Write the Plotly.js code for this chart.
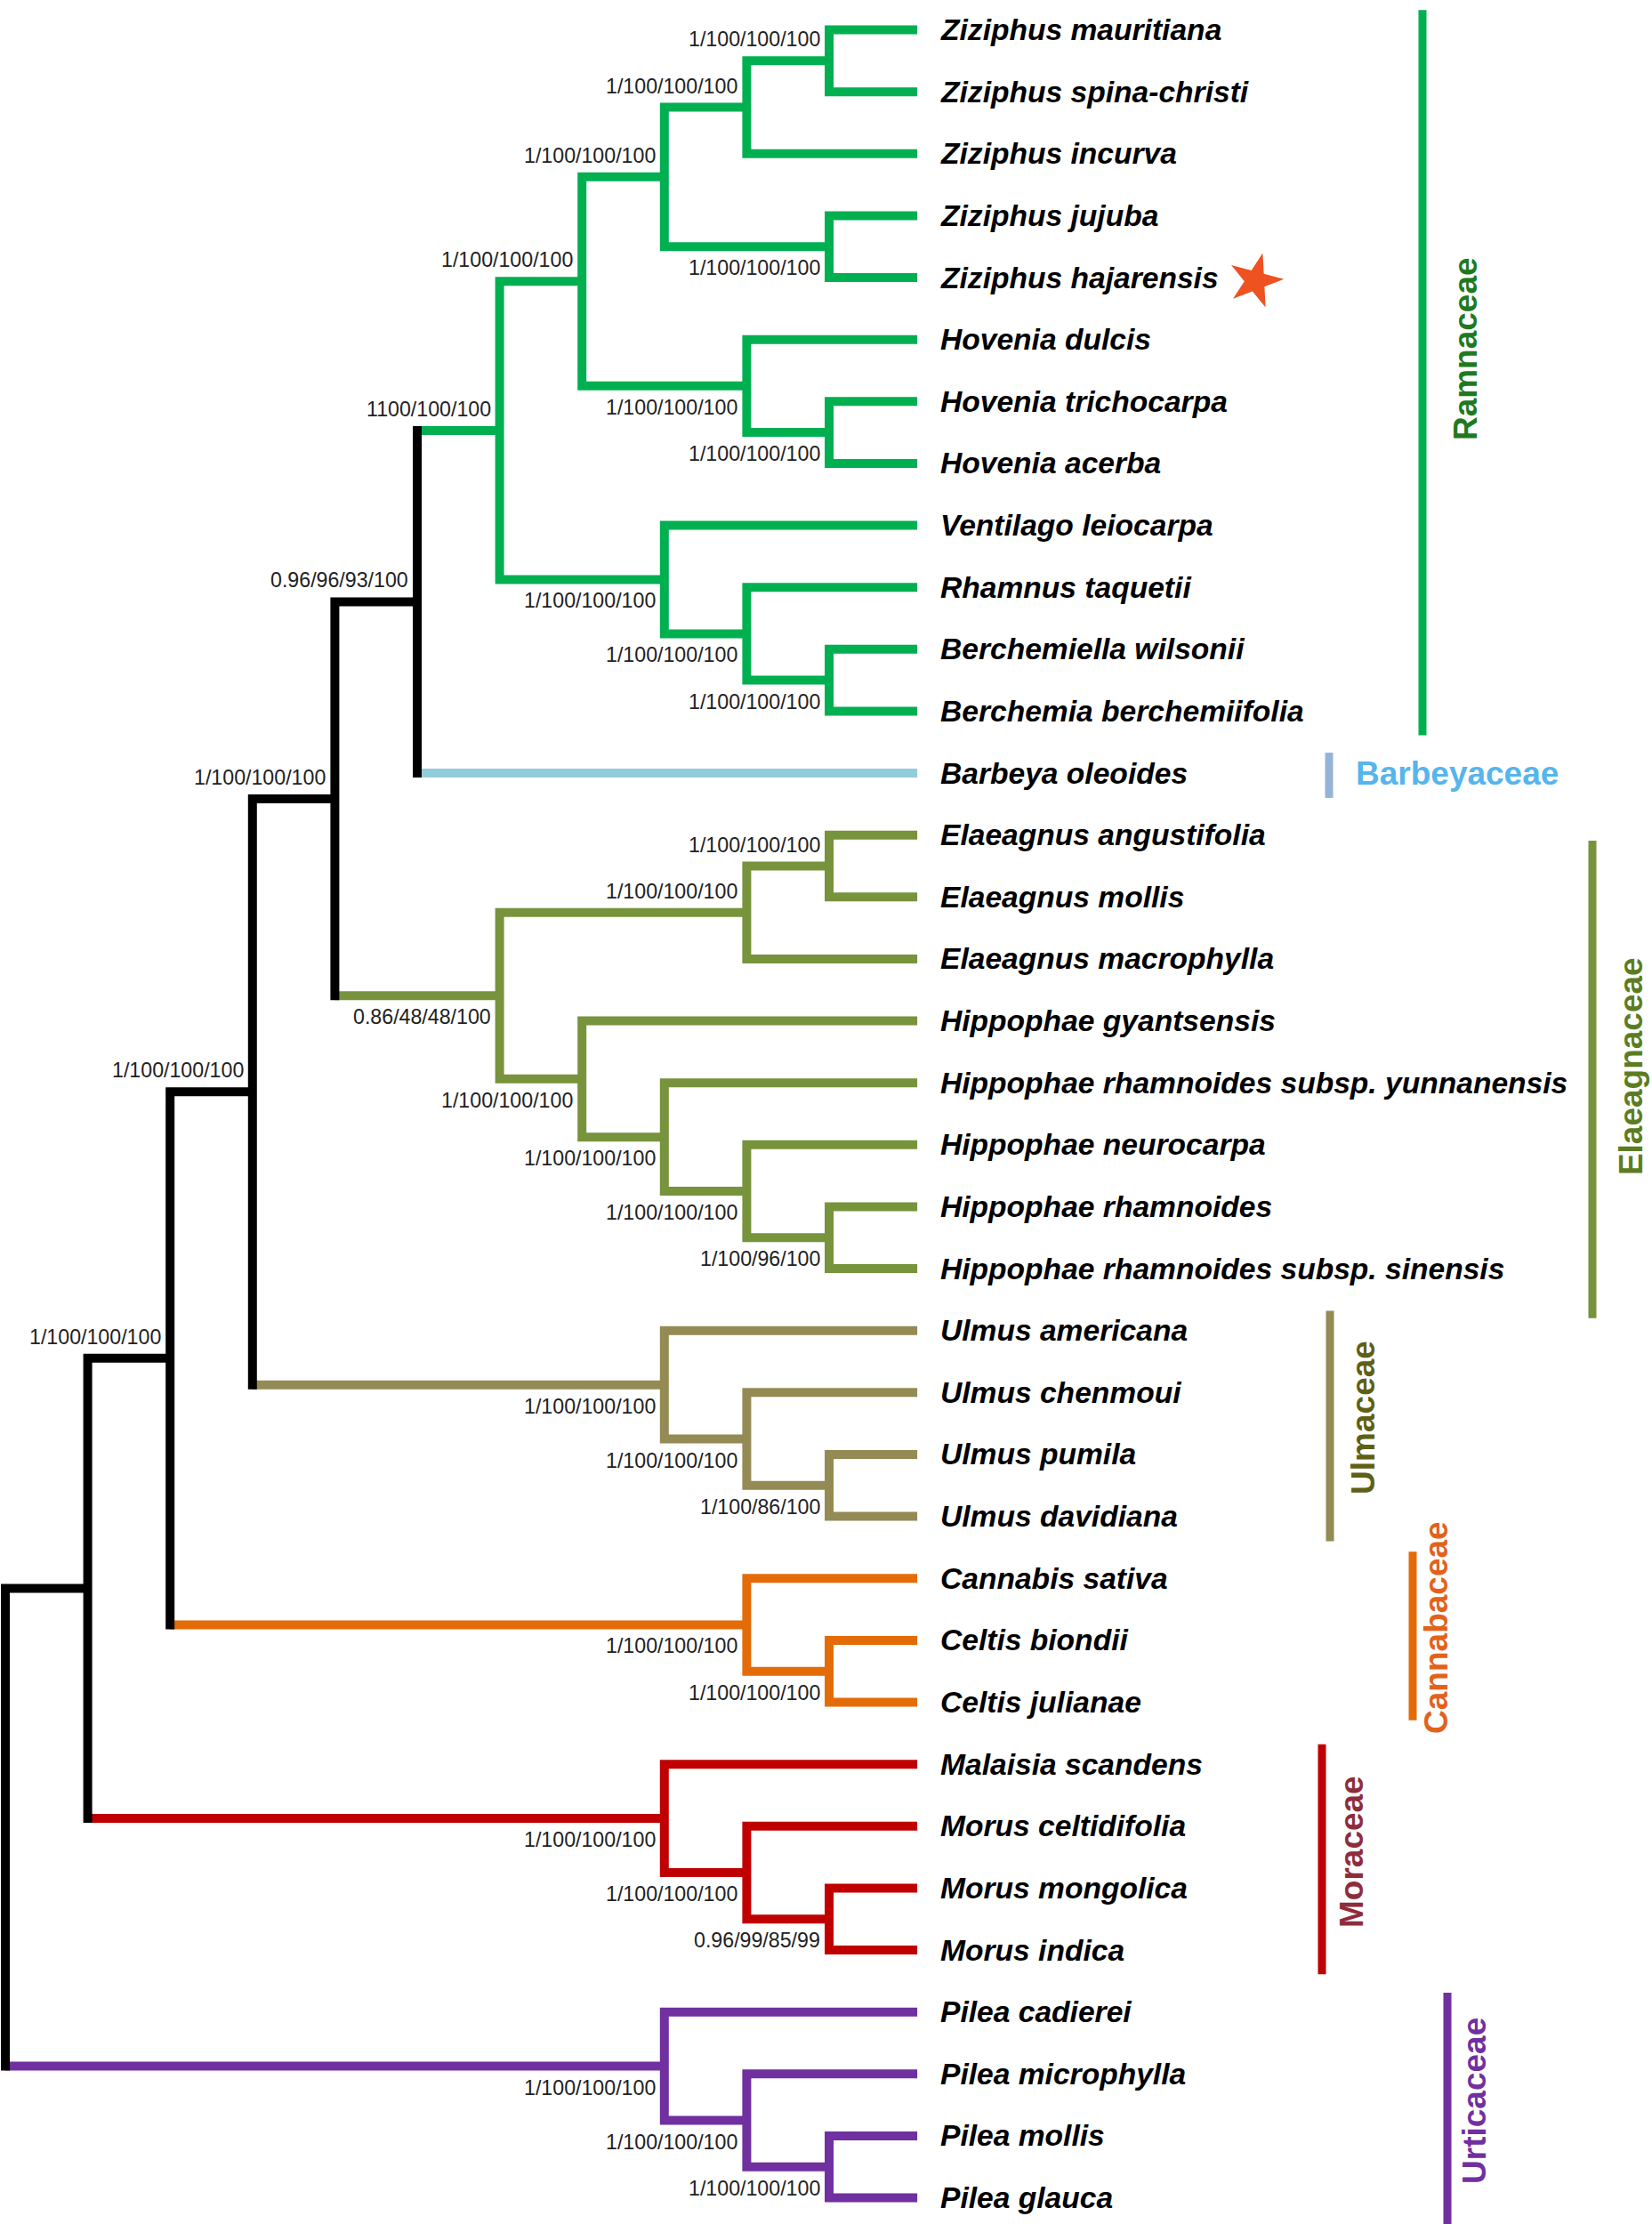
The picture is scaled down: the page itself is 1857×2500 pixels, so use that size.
<!DOCTYPE html>
<html>
<head>
<meta charset="utf-8">
<script src="https://cdn.plot.ly/plotly-3.0.1.min.js"></script>
<style>html,body{margin:0;padding:0;background:#fff;}</style>
</head>
<body>
<div id="chart" style="width:1857px;height:2500px;"></div>
<script>
// ---------------- DATA ----------------
// Tree topology (Newick); internal node names are the support values (PP/BS/BS/BS)
const treeNewick =
  "(((((((((((Ziziphus mauritiana,Ziziphus spina-christi)1/100/100/100,Ziziphus incurva)1/100/100/100," +
  "(Ziziphus jujuba,Ziziphus hajarensis)1/100/100/100)1/100/100/100," +
  "(Hovenia dulcis,(Hovenia trichocarpa,Hovenia acerba)1/100/100/100)1/100/100/100)1/100/100/100," +
  "(Ventilago leiocarpa,(Rhamnus taquetii,(Berchemiella wilsonii,Berchemia berchemiifolia)1/100/100/100)1/100/100/100)1/100/100/100)1100/100/100," +
  "Barbeya oleoides)0.96/96/93/100," +
  "(((Elaeagnus angustifolia,Elaeagnus mollis)1/100/100/100,Elaeagnus macrophylla)1/100/100/100," +
  "(Hippophae gyantsensis,(Hippophae rhamnoides subsp. yunnanensis,(Hippophae neurocarpa,(Hippophae rhamnoides,Hippophae rhamnoides subsp. sinensis)1/100/96/100)1/100/100/100)1/100/100/100)1/100/100/100)0.86/48/48/100)1/100/100/100," +
  "(Ulmus americana,(Ulmus chenmoui,(Ulmus pumila,Ulmus davidiana)1/100/86/100)1/100/100/100)1/100/100/100)1/100/100/100," +
  "(Cannabis sativa,(Celtis biondii,Celtis julianae)1/100/100/100)1/100/100/100)1/100/100/100," +
  "(Malaisia scandens,(Morus celtidifolia,(Morus mongolica,Morus indica)0.96/99/85/99)1/100/100/100)1/100/100/100)," +
  "(Pilea cadierei,(Pilea microphylla,(Pilea mollis,Pilea glauca)1/100/100/100)1/100/100/100)1/100/100/100);";

const cladeNames = ["Ramnaceae", "Barbeyaceae", "Elaeagnaceae", "Ulmaceae", "Cannabaceae", "Moraceae", "Urticaceae"];
const cladeFirstLeaf = ["Ziziphus mauritiana", "Barbeya oleoides", "Elaeagnus angustifolia", "Ulmus americana", "Cannabis sativa", "Malaisia scandens", "Pilea cadierei"];
const cladeLastLeaf = ["Berchemia berchemiifolia", "Barbeya oleoides", "Hippophae rhamnoides subsp. sinensis", "Ulmus davidiana", "Celtis julianae", "Morus indica", "Pilea glauca"];
const highlightedSpecies = ["Ziziphus hajarensis"];

// ---------------- STYLE ----------------
const W = 1857, H = 2500;
const FONT = "Liberation Sans, Arial, Helvetica, sans-serif";
const LW = 10;                 // branch line width (px)
const PX_X = 92.6;             // px per tree level
const PX_Y = 69.63;            // px per leaf
const X0PX = 6;                // px of root
const Y0PX = 33.5;             // px of first leaf
const TIP_PAD = 0.07;          // extra length of terminal branches (levels)
const BACKBONE = "#000000";
const cladeStyle = [
  {branch:"#00b050", bar:"#00b050", text:"#1f7a1f", barX:1599, padTop:0.32, padBot:0.39, textX:1647, textDy:-0.35, angle:-90},
  {branch:"#92cddc", bar:"#95b3d7", text:"#56b5ec", barX:1494, padTop:0.33, padBot:0.40, textX:1522, textDy:0, angle:0},
  {branch:"#77933c", bar:"#77933c", text:"#5b7d22", barX:1790, padTop:-0.09, padBot:0.80, textX:1833, textDy:0.24, angle:-90},
  {branch:"#948a54", bar:"#948a54", text:"#5f5f16", barX:1495, padTop:0.32, padBot:0.40, textX:1533, textDy:-0.09, angle:-90},
  {branch:"#e36c09", bar:"#e36c09", text:"#e2621b", barX:1588, padTop:0.43, padBot:0.29, textX:1615, textDy:-0.2, angle:-90},
  {branch:"#c00000", bar:"#c00000", text:"#8f2c3c", barX:1486, padTop:0.32, padBot:0.39, textX:1519, textDy:-0.08, angle:-90},
  {branch:"#7030a0", bar:"#7030a0", text:"#7030a0", barX:1627, padTop:0.31, padBot:0.55, textX:1658, textDy:-0.06, angle:-90}
];

// ---------------- PARSE & LAYOUT ----------------
function parseNewick(s) {
  let i = 0;
  function node() {
    const n = {children: [], name: ""};
    if (s[i] === "(") {
      i++;
      n.children.push(node());
      while (s[i] === ",") { i++; n.children.push(node()); }
      i++; // ')'
    }
    let name = "";
    while (i < s.length && !",();".includes(s[i])) { name += s[i]; i++; }
    n.name = name.trim();
    return n;
  }
  return node();
}
const root = parseNewick(treeNewick);
const leaves = [];
function layout(n) {
  if (!n.children.length) { n.h = 0; n.y = leaves.length; n.leaves = [n.name]; leaves.push(n); return; }
  n.children.forEach(c => { c.parent = n; layout(c); });
  n.h = Math.max(...n.children.map(c => c.h)) + 1;
  n.y = (n.children[0].y + n.children[n.children.length - 1].y) / 2;
  n.leaves = [].concat(...n.children.map(c => c.leaves));
}
layout(root);
const HMAX = root.h;
function setX(n) {
  n.x = n.children.length ? HMAX - n.h : HMAX + TIP_PAD;
  n.children.forEach(setX);
}
setX(root);
const leafIndex = {};
leaves.forEach((l, i) => leafIndex[l.name] = i);
const leafClade = {};
cladeNames.forEach((c, k) => {
  for (let i = leafIndex[cladeFirstLeaf[k]]; i <= leafIndex[cladeLastLeaf[k]]; i++) leafClade[leaves[i].name] = k;
});
function nodeColor(n) {
  const ks = new Set(n.leaves.map(l => leafClade[l]));
  if (ks.size === 1) { const k = [...ks][0]; if (k !== undefined) return cladeStyle[k].branch; }
  return BACKBONE;
}

// ---------------- BRANCH SEGMENTS ----------------
const segs = {}; // color -> {x:[], y:[]}
function addLine(color, pts) {
  if (!segs[color]) segs[color] = {x: [], y: []};
  pts.forEach(p => { segs[color].x.push(p[0]); segs[color].y.push(p[1]); });
  segs[color].x.push(null); segs[color].y.push(null);
}
const ext = (LW / 2) / PX_Y;
const supportAnn = [];
function walk(n) {
  if (!n.children.length) return;
  const cn = nodeColor(n);
  const c1 = n.children[0], c2 = n.children[n.children.length - 1];
  const col1 = nodeColor(c1), col2 = nodeColor(c2);
  const pts = [];
  if (col1 === cn) { pts.push([c1.x, c1.y]); pts.push([n.x, c1.y]); }
  else { addLine(col1, [[n.x, c1.y], [c1.x, c1.y]]); pts.push([n.x, c1.y - ext]); }
  if (col2 === cn) { pts.push([n.x, c2.y]); pts.push([c2.x, c2.y]); }
  else { addLine(col2, [[n.x, c2.y], [c2.x, c2.y]]); pts.push([n.x, c2.y + ext]); }
  addLine(cn, pts);
  if (n.parent && n.name) {
    const first = n.parent.children[0] === n;
    supportAnn.push({
      x: n.x, y: n.y, xref: "x", yref: "y", text: n.name, showarrow: false,
      xanchor: "right", yanchor: "middle", xshift: -8, yshift: first ? 24 : -24,
      font: {family: FONT, size: 23.2, color: "#222222"}
    });
  }
  n.children.forEach(walk);
}
walk(root);

const traces = [];
Object.keys(segs).filter(c => c !== BACKBONE).concat([BACKBONE]).forEach(c => {
  if (!segs[c]) return;
  traces.push({type: "scatter", mode: "lines", x: segs[c].x, y: segs[c].y,
    line: {color: c, width: LW, shape: "linear"}, hoverinfo: "skip", connectgaps: false});
});

// highlighted species star
const STAR_DX = 380 / PX_X;
traces.push({
  type: "scatter", mode: "markers",
  x: highlightedSpecies.map(s => leaves[leafIndex[s]].x + STAR_DX),
  y: highlightedSpecies.map(s => leaves[leafIndex[s]].y + 0.05),
  marker: {symbol: "star", size: 46, color: "#ee5220", angle: 15, line: {width: 0}},
  hoverinfo: "skip"
});

// ---------------- ANNOTATIONS ----------------
const annotations = [];
leaves.forEach(l => annotations.push({
  x: l.x, y: l.y, xref: "x", yref: "y", text: "<b><i>" + l.name + "</i></b>", showarrow: false,
  xanchor: "left", yanchor: "middle", xshift: 24,
  font: {family: FONT, size: 33.6, color: "#000000"}
}));
supportAnn.forEach(a => annotations.push(a));

const shapes = [];
cladeNames.forEach((name, k) => {
  const st = cladeStyle[k];
  const a = leafIndex[cladeFirstLeaf[k]], b = leafIndex[cladeLastLeaf[k]];
  shapes.push({type: "line", xref: "paper", yref: "y", x0: st.barX / W, x1: st.barX / W,
    y0: a - st.padTop, y1: b + st.padBot, line: {color: st.bar, width: 9}});
  annotations.push({
    x: st.textX / W, y: (a + b) / 2 + st.textDy, xref: "paper", yref: "y",
    text: "<b>" + name + "</b>", showarrow: false, textangle: st.angle,
    xanchor: st.angle === 0 ? "left" : "center", yanchor: "middle",
    font: {family: FONT, size: 37, color: st.text}
  });
});

const layoutObj = {
  width: W, height: H,
  margin: {l: 0, r: 0, t: 0, b: 0, pad: 0},
  paper_bgcolor: "#ffffff", plot_bgcolor: "#ffffff",
  showlegend: false,
  xaxis: {range: [-X0PX / PX_X, (W - X0PX) / PX_X], visible: false, fixedrange: true},
  yaxis: {range: [-Y0PX / PX_Y + (H / PX_Y), -Y0PX / PX_Y], visible: false, fixedrange: true},
  annotations: annotations,
  shapes: shapes
};
Plotly.newPlot("chart", traces, layoutObj, {displayModeBar: false, staticPlot: true});
</script>
</body>
</html>
